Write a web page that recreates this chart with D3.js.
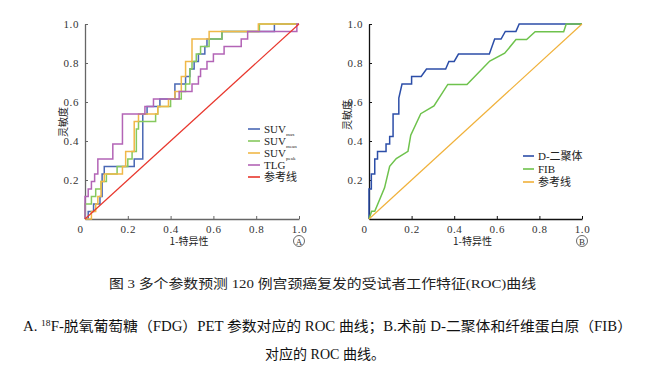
<!DOCTYPE html>
<html><head><meta charset="utf-8">
<script src="https://cdn.jsdelivr.net/npm/d3@7"></script>
<style>
html,body{margin:0;padding:0;background:#fff;}
svg{display:block;}
</style></head>
<body>
<svg id="c" width="654" height="368"></svg>
<script>
// ---------- data (points are [1-specificity, sensitivity]) ----------
const xTicks = [0, 0.2, 0.4, 0.6, 0.8, 1.0];
const yTicks = [0.2, 0.4, 0.6, 0.8, 1.0];

const suvMax = [[0,0],[0.015,0.038],[0.04,0.077],[0.07,0.115],[0.08,0.231],[0.09,0.269],[0.23,0.308],[0.27,0.538],[0.29,0.577],[0.35,0.615],[0.42,0.692],[0.47,0.731],[0.49,0.769],[0.51,0.808],[0.53,0.846],[0.56,0.885],[0.57,0.923],[0.64,0.962],[0.885,1.0],[1,1]];
const suvMean = [[0,0],[0,0.077],[0.03,0.115],[0.05,0.154],[0.075,0.192],[0.1,0.231],[0.15,0.269],[0.2,0.308],[0.22,0.346],[0.24,0.462],[0.25,0.5],[0.33,0.538],[0.34,0.577],[0.4,0.615],[0.45,0.654],[0.47,0.692],[0.49,0.769],[0.5,0.808],[0.52,0.846],[0.54,0.885],[0.58,0.923],[0.64,0.962],[0.815,1.0],[1,1]];
const suvPeak = [[0,0],[0.03,0.038],[0.05,0.077],[0.06,0.115],[0.075,0.192],[0.09,0.231],[0.175,0.269],[0.19,0.346],[0.23,0.5],[0.25,0.538],[0.34,0.577],[0.39,0.615],[0.42,0.654],[0.45,0.731],[0.47,0.808],[0.5,0.923],[0.58,0.962],[0.81,1.0],[1,1]];
const tlg = [[0,0],[0,0.115],[0.015,0.154],[0.03,0.192],[0.045,0.231],[0.06,0.308],[0.13,0.385],[0.175,0.538],[0.28,0.577],[0.32,0.615],[0.44,0.654],[0.5,0.692],[0.53,0.731],[0.54,0.769],[0.57,0.808],[0.6,0.846],[0.65,0.885],[0.73,0.923],[0.76,0.962],[0.99,1.0],[1,1]];
const refLine = [[0,0],[1,1]];

const dDimer = [[0,0],[0,0.154],[0.011,0.154],[0.011,0.231],[0.027,0.231],[0.027,0.308],[0.04,0.308],[0.04,0.346],[0.08,0.346],[0.08,0.385],[0.097,0.385],[0.097,0.423],[0.113,0.423],[0.113,0.538],[0.14,0.538],[0.14,0.62],[0.155,0.692],[0.2,0.692],[0.2,0.731],[0.245,0.731],[0.27,0.769],[0.36,0.769],[0.375,0.808],[0.4,0.808],[0.42,0.846],[0.565,0.846],[0.59,0.923],[0.62,0.923],[0.64,0.962],[0.69,0.962],[0.705,1.0],[1,1]];
const fib = [[0,0],[0.0125,0.04],[0.027,0.04],[0.073,0.16],[0.097,0.27],[0.128,0.31],[0.183,0.347],[0.196,0.43],[0.243,0.54],[0.305,0.58],[0.37,0.69],[0.46,0.69],[0.567,0.81],[0.637,0.85],[0.69,0.92],[0.74,0.92],[0.78,0.96],[0.914,0.96],[0.926,1.0],[1,1]];

const legendA = ["SUV|max", "SUV|mean", "SUV|peak", "TLG", "参考线"];
const legendB = ["D-二聚体", "FIB", "参考线"];

const xTitle = "1-特异性";
const yTitle = "灵敏度";
const caption1 = "图 3  多个参数预测 120 例宫颈癌复发的受试者工作特征(ROC)曲线";
const caption3 = "对应的 ROC 曲线。";

// ---------- drawing ----------
const svg = d3.select("#c");
const serif = "'Liberation Serif','Noto Sans CJK SC',serif";
const cjk = "'Noto Sans CJK SC','Liberation Serif',sans-serif";

function panel(cfg) {
  const x = d3.scaleLinear().domain([0,1]).range([cfg.x0, cfg.x1]);
  const y = d3.scaleLinear().domain([0,1]).range([cfg.y0, cfg.y1]);
  const g = svg.append("g");

  // axes
  const xa = g.append("g").attr("transform", `translate(0,${cfg.y0})`)
    .call(d3.axisBottom(x).tickValues(xTicks).tickSizeInner(-3).tickSizeOuter(0)
      .tickFormat(d => d === 0 ? "0" : d3.format(".1f")(d)).tickPadding(6));
  const ya = g.append("g").attr("transform", `translate(${cfg.x0},0)`)
    .call(d3.axisLeft(y).tickValues(yTicks).tickSizeInner(-3).tickSizeOuter(0)
      .tickFormat(d3.format(".1f")).tickPadding(6));
  [xa, ya].forEach(a => {
    a.select(".domain").attr("stroke", cfg.axisColor).attr("stroke-width", 1.3);
    a.selectAll(".tick line").attr("stroke", cfg.axisColor).attr("stroke-width", 1);
    a.selectAll(".tick text").attr("fill", "#333").style("font-family", serif)
      .style("font-size", "11px").style("letter-spacing", "0.6px");
  });
  xa.selectAll(".tick text").filter(d => d === 0).attr("dx", -5);

  // titles
  g.append("text").attr("x", (cfg.x0 + cfg.x1) / 2 - 3).attr("y", cfg.y0 + 26)
    .attr("text-anchor", "middle").style("font-family", cjk).style("font-size", "10px").attr("fill", "#222").text(xTitle);
  g.append("text").attr("transform", `translate(${cfg.x0 - 18},${cfg.yTitleY}) rotate(-90)`)
    .attr("text-anchor", "middle").style("font-family", cjk).style("font-size", "10px").attr("fill", "#222").text(yTitle);
  // panel mark
  g.append("circle").attr("cx", cfg.x1).attr("cy", cfg.y0 + 22).attr("r", 5.5).attr("fill", "none").attr("stroke", "#444").attr("stroke-width", 0.8);
  g.append("text").attr("x", cfg.x1).attr("y", cfg.y0 + 25.5).attr("text-anchor", "middle")
    .style("font-family", serif).style("font-size", "9px").attr("fill", "#333").text(cfg.mark);

  // curves
  cfg.series.forEach(s => {
    const line = d3.line().x(d => x(d[0])).y(d => y(d[1])).curve(s.step ? d3.curveStepAfter : d3.curveLinear);
    g.append("path").datum(s.data).attr("d", line).attr("fill", "none")
      .attr("stroke", s.color).attr("stroke-width", s.w || 1.5).attr("stroke-linejoin", "miter");
  });

  // legend
  const lg = g.append("g");
  cfg.legend.forEach((name, i) => {
    const yy = cfg.lgY + i * cfg.lgStep;
    lg.append("line").attr("x1", cfg.lgX).attr("x2", cfg.lgX + cfg.lgLen).attr("y1", yy).attr("y2", yy)
      .attr("stroke", cfg.series[i].color).attr("stroke-width", 1.6);
    const t = lg.append("text").attr("x", cfg.lgX + cfg.lgLen + 4).attr("y", yy + 4)
      .style("font-family", serif).style("font-size", "11px").attr("fill", "#222");
    const parts = name.split("|");
    t.append("tspan").text(parts[0]);
    if (parts[1]) t.append("tspan").attr("dy", 3).style("font-size", "5px").text(parts[1]);
  });
}

panel({
  x0: 85, x1: 299, y0: 219, y1: 24, axisColor: "#666", mark: "A", yTitleY: 122,
  series: [
    {data: suvMax, color: "#4a68b4", step: true},
    {data: suvMean, color: "#86c95e", step: true},
    {data: suvPeak, color: "#f0b848", step: true},
    {data: tlg, color: "#b364b6", step: true},
    {data: refLine, color: "#e8362c", step: false, w: 1.2}
  ],
  legend: legendA, lgX: 248, lgLen: 12, lgY: 129, lgStep: 12
});

panel({
  x0: 369, x1: 582, y0: 219, y1: 24, axisColor: "#111", mark: "B", yTitleY: 115,
  series: [
    {data: dDimer, color: "#2c4ea8", step: false},
    {data: fib, color: "#6ec24c", step: false},
    {data: refLine, color: "#f0b13a", step: false, w: 1.2}
  ],
  legend: legendB, lgX: 523, lgLen: 11, lgY: 156, lgStep: 13
});

// captions
svg.append("text").attr("x", 109).attr("y", 288).attr("textLength", 427).attr("lengthAdjust", "spacingAndGlyphs")
  .style("font-family", serif).style("font-size", "13px").attr("fill", "#222").text(caption1);

const c2 = svg.append("text").attr("x", 23).attr("y", 331).attr("textLength", 609).attr("lengthAdjust", "spacingAndGlyphs")
  .style("font-family", serif).style("font-size", "14px").attr("fill", "#111");
c2.append("tspan").text("A. ");
c2.append("tspan").attr("dy", -5).style("font-size", "9px").text("18");
c2.append("tspan").attr("dy", 5).text("F-脱氧葡萄糖（FDG）PET 参数对应的 ROC 曲线；B.术前 D-二聚体和纤维蛋白原（FIB）");

svg.append("text").attr("x", 325).attr("y", 359).attr("text-anchor", "middle")
  .style("font-family", serif).style("font-size", "14px").attr("fill", "#111").text(caption3);
</script>
</body></html>
